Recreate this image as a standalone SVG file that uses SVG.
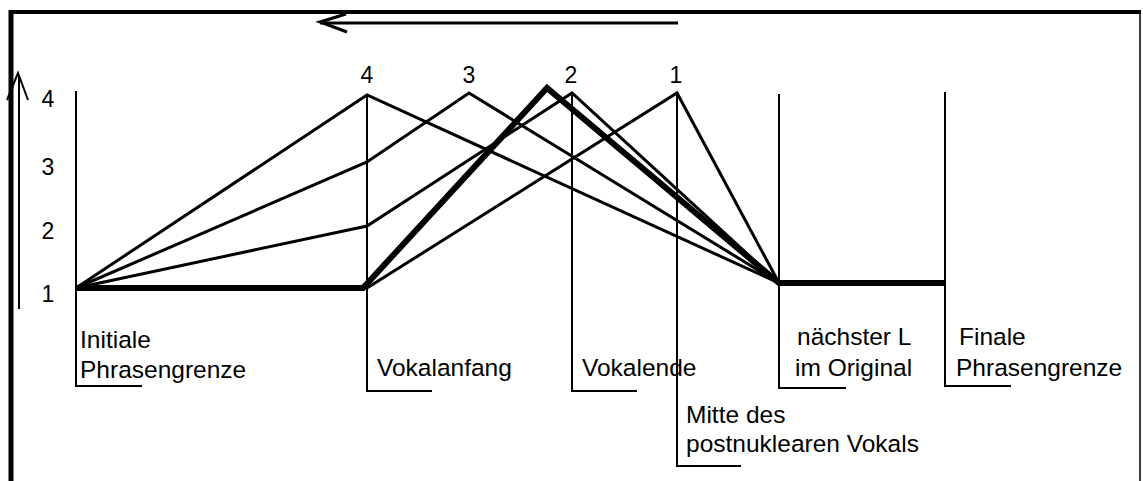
<svg xmlns="http://www.w3.org/2000/svg" width="1143" height="481" viewBox="0 0 1143 481">
  <style>
    .frame { fill: none; stroke: #000; }
    .mark { fill: none; stroke: #000; stroke-width: 2; }
    .thin { fill: none; stroke: #000; stroke-width: 3; stroke-linejoin: miter; }
    .thick { fill: none; stroke: #000; stroke-width: 6; stroke-linejoin: miter; }
    .lbl { font-family: "Liberation Sans", Arial, sans-serif; font-size: 24.5px; fill: #000; }
    .num { font-family: "Liberation Sans", Arial, sans-serif; font-size: 23px; fill: #000; text-anchor: middle; }
  </style>

  <rect width="1143" height="481" fill="#fff"/>

  <!-- outer frame: heavy top and left edge, hairline right edge -->
  <g id="frame">
    <line class="frame" x1="9" y1="12" x2="1141" y2="12" stroke-width="4"/>
    <line class="frame" x1="11" y1="10" x2="11" y2="481" stroke-width="5"/>
    <line class="frame" x1="1140" y1="12" x2="1140" y2="481" stroke-width="1.5"/>
  </g>

  <!-- time direction arrow (right to left) -->
  <g id="time-arrow">
    <line class="thin" x1="678" y1="23" x2="320" y2="23"/>
    <polyline class="thin" points="346,14 320,22 347,32"/>
  </g>

  <!-- pitch scale -->
  <g id="scale">
    <line class="mark" x1="19" y1="75" x2="19" y2="309"/>
    <polyline class="mark" points="7,100 18,73 28,100"/>
    <text class="num" x="48" y="107">4</text>
    <text class="num" x="48" y="175">3</text>
    <text class="num" x="48" y="239">2</text>
    <text class="num" x="48" y="302">1</text>
  </g>

  <!-- peak alignment numbers -->
  <g id="peak-numbers">
    <text class="num" x="367" y="83">4</text>
    <text class="num" x="469" y="83">3</text>
    <text class="num" x="571" y="83">2</text>
    <text class="num" x="676" y="83">1</text>
  </g>

  <!-- segment landmarks -->
  <g id="initial-boundary">
    <polyline class="mark" points="76,91 76,386 142,386"/>
    <text class="lbl" x="80" y="348">Initiale</text>
    <text class="lbl" x="80" y="378">Phrasengrenze</text>
  </g>
  <g id="vowel-onset">
    <polyline class="mark" points="367,95 367,391 432,391"/>
    <text class="lbl" x="377" y="376">Vokalanfang</text>
  </g>
  <g id="vowel-end">
    <polyline class="mark" points="572,93 572,391 637,391"/>
    <text class="lbl" x="582" y="376">Vokalende</text>
  </g>
  <g id="postnuclear-mid">
    <polyline class="mark" points="677,93 677,466 741,466"/>
    <text class="lbl" x="686" y="423">Mitte des</text>
    <text class="lbl" x="686" y="452">postnuklearen Vokals</text>
  </g>
  <g id="next-low">
    <polyline class="mark" points="779,94 779,388 846,388"/>
    <text class="lbl" x="797" y="345">nächster L</text>
    <text class="lbl" x="795" y="376">im Original</text>
  </g>
  <g id="final-boundary">
    <polyline class="mark" points="945,92 945,386 1011,386"/>
    <text class="lbl" x="959" y="345">Finale</text>
    <text class="lbl" x="956" y="376">Phrasengrenze</text>
  </g>

  <!-- pitch contours -->
  <g id="connectors">
    <!-- peak 4 -->
    <polyline class="thin" points="76,288 367,95 779,283"/>
    <!-- peak 3 -->
    <polyline class="thin" points="76,288 367,162 469,93 779,283"/>
    <!-- peak 2 -->
    <polyline class="thin" points="76,288 367,226 572,93 779,283"/>
    <!-- peak 1 -->
    <polyline class="thin" points="367,288 677,93 779,283"/>
    <!-- original contour -->
    <polyline class="thick" points="76,288 363,288 547,88 779,283 945,283"/>
  </g>
</svg>
